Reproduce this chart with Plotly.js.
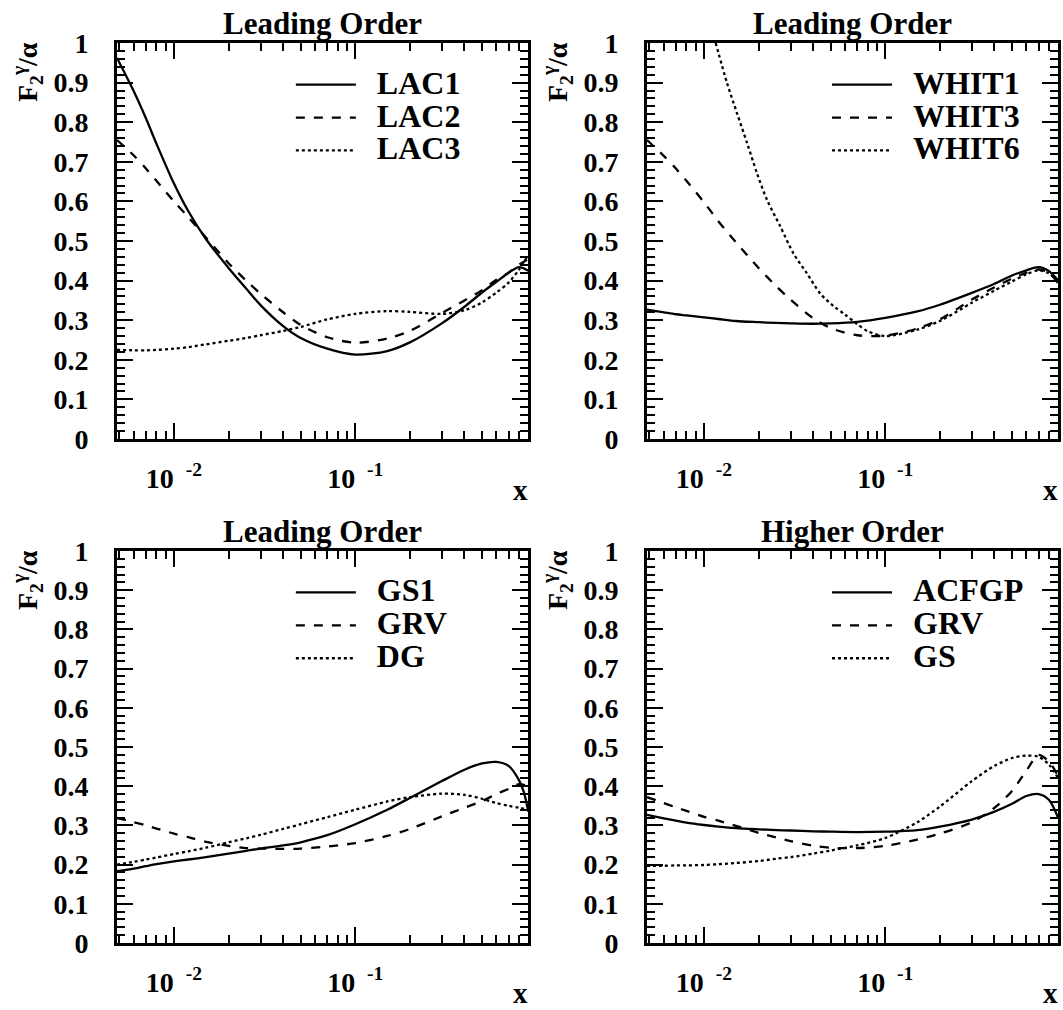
<!DOCTYPE html>
<html><head><meta charset="utf-8">
<script src="https://cdn.plot.ly/plotly-3.0.1.min.js"></script>
<style>html,body{margin:0;padding:0;background:#fff} .panel{position:absolute}</style>
</head><body>
<div id="p1" class="panel"></div>
<div id="p2" class="panel"></div>
<div id="p3" class="panel"></div>
<div id="p4" class="panel"></div>
<script>
// ---------- data ----------
const xGrid = [0.00485, 0.006, 0.007, 0.008, 0.01, 0.012, 0.015, 0.02, 0.025, 0.03, 0.04, 0.05, 0.07, 0.1, 0.15, 0.2, 0.3, 0.4, 0.5, 0.6, 0.7, 0.8, 0.9];

// Panel 1: Leading Order (LAC)
const lac1 = [0.962, 0.878, 0.81, 0.746, 0.645, 0.575, 0.505, 0.432, 0.380, 0.338, 0.285, 0.255, 0.228, 0.213, 0.222, 0.244, 0.292, 0.334, 0.370, 0.397, 0.420, 0.434, 0.425];
const lac2 = [0.755, 0.716, 0.683, 0.652, 0.600, 0.560, 0.509, 0.444, 0.400, 0.367, 0.320, 0.288, 0.257, 0.243, 0.254, 0.273, 0.318, 0.350, 0.376, 0.402, 0.420, 0.440, 0.455];
const lac3 = [0.225, 0.224, 0.224, 0.225, 0.228, 0.232, 0.239, 0.248, 0.255, 0.262, 0.273, 0.283, 0.302, 0.316, 0.323, 0.321, 0.316, 0.325, 0.345, 0.370, 0.395, 0.428, 0.465];

// Panel 2: Leading Order (WHIT)
const whit1 = [0.327, 0.320, 0.315, 0.312, 0.307, 0.303, 0.298, 0.295, 0.293, 0.292, 0.291, 0.292, 0.296, 0.306, 0.322, 0.339, 0.369, 0.392, 0.413, 0.426, 0.434, 0.424, 0.400];
const whit3 = [0.755, 0.715, 0.683, 0.652, 0.598, 0.550, 0.497, 0.432, 0.386, 0.352, 0.305, 0.280, 0.262, 0.261, 0.279, 0.302, 0.352, 0.383, 0.405, 0.420, 0.428, 0.420, 0.392];
const whit6X = [0.0116, 0.0134, 0.0152, 0.0173, 0.0196, 0.0223, 0.0264, 0.0312, 0.037, 0.0438, 0.052, 0.06, 0.07, 0.08, 0.1, 0.15, 0.2, 0.3, 0.4, 0.5, 0.6, 0.7, 0.8, 0.9];
const whit6 = [1.0, 0.899, 0.823, 0.747, 0.671, 0.603, 0.536, 0.468, 0.418, 0.367, 0.335, 0.314, 0.29, 0.272, 0.260, 0.276, 0.298, 0.344, 0.375, 0.398, 0.416, 0.426, 0.418, 0.398];

// Panel 3: Leading Order (GS1, GRV, DG)
const gs1X = [0.00485, 0.006, 0.007, 0.008, 0.01, 0.012, 0.015, 0.02, 0.025, 0.03, 0.04, 0.05, 0.07, 0.1, 0.15, 0.2, 0.3, 0.4, 0.5, 0.6, 0.7, 0.8, 0.85, 0.9];
const gs1 = [0.183, 0.190, 0.196, 0.201, 0.208, 0.213, 0.219, 0.228, 0.235, 0.241, 0.249, 0.257, 0.275, 0.303, 0.340, 0.370, 0.413, 0.442, 0.458, 0.462, 0.452, 0.415, 0.385, 0.335];
const grvLO = [0.319, 0.308, 0.300, 0.292, 0.279, 0.270, 0.258, 0.248, 0.242, 0.241, 0.240, 0.241, 0.246, 0.255, 0.273, 0.291, 0.323, 0.345, 0.362, 0.380, 0.393, 0.405, 0.400];
const dg = [0.200, 0.207, 0.213, 0.218, 0.227, 0.234, 0.243, 0.257, 0.267, 0.276, 0.291, 0.303, 0.321, 0.340, 0.361, 0.372, 0.381, 0.378, 0.368, 0.357, 0.350, 0.345, 0.340];

// Panel 4: Higher Order (ACFGP, GRV, GS)
const acfgp = [0.327, 0.318, 0.312, 0.307, 0.301, 0.297, 0.293, 0.290, 0.288, 0.287, 0.285, 0.284, 0.283, 0.284, 0.288, 0.297, 0.315, 0.335, 0.355, 0.375, 0.380, 0.365, 0.318];
const grvHO = [0.372, 0.357, 0.346, 0.337, 0.322, 0.312, 0.299, 0.281, 0.269, 0.260, 0.248, 0.243, 0.242, 0.248, 0.264, 0.279, 0.308, 0.345, 0.388, 0.440, 0.480, 0.462, 0.425];
const gsHO = [0.197, 0.197, 0.198, 0.198, 0.199, 0.201, 0.204, 0.209, 0.215, 0.219, 0.228, 0.236, 0.249, 0.268, 0.308, 0.348, 0.413, 0.452, 0.472, 0.478, 0.475, 0.455, 0.420];

// Labels / ticks
const panelTitles = ["Leading Order", "Leading Order", "Leading Order", "Higher Order"];
const legendNames = [["LAC1", "LAC2", "LAC3"], ["WHIT1", "WHIT3", "WHIT6"], ["GS1", "GRV", "DG"], ["ACFGP", "GRV", "GS"]];
const xTickVals = [0.01, 0.1];
const xTickText = ["10\u00a0<sup>\u00a0-2</sup>", "10\u00a0<sup>\u00a0-1</sup>"];
const xMinorVals = [0.005, 0.006, 0.007, 0.008, 0.009, 0.02, 0.03, 0.04, 0.05, 0.06, 0.07, 0.08, 0.09, 0.2, 0.3, 0.4, 0.5, 0.6, 0.7, 0.8];
const yTickVals = [0, 0.1, 0.2, 0.3, 0.4, 0.5, 0.6, 0.7, 0.8, 0.9, 1];
const yTickText = ["0", "0.1", "0.2", "0.3", "0.4", "0.5", "0.6", "0.7", "0.8", "0.9", "1"];
const xRange = [0.00485, 0.896];
const yLabel = "F<sub>2</sub><sup>\u03b3</sup>/\u03b1";
const xLabel = "x";

// ---------- layout / styling ----------
const FONT = '"Liberation Serif", "Times New Roman", serif';
const dashes = ["solid", "dash", "dot"];
const panels = [
  {id: 'p1', left: 0, top: 0, w: 532, h: 505, m: {l: 117, r: 4, t: 43, b: 66}, xShift: -51, legX: 0.423, series: [[xGrid, lac1], [xGrid, lac2], [xGrid, lac3]]},
  {id: 'p2', left: 532, top: 0, w: 531, h: 505, m: {l: 115, r: 5, t: 43, b: 66}, xShift: -51, legX: 0.438, series: [[xGrid, whit1], [xGrid, whit3], [whit6X, whit6]]},
  {id: 'p3', left: 0, top: 505, w: 532, h: 505, m: {l: 117, r: 4, t: 46, b: 67}, xShift: -50, legX: 0.423, series: [[gs1X, gs1], [xGrid, grvLO], [xGrid, dg]]},
  {id: 'p4', left: 532, top: 505, w: 531, h: 505, m: {l: 115, r: 5, t: 46, b: 67}, xShift: -50, legX: 0.438, series: [[xGrid, acfgp], [xGrid, grvHO], [xGrid, gsHO]]}
];

panels.forEach((p, i) => {
  const el = document.getElementById(p.id);
  el.style.left = p.left + 'px'; el.style.top = p.top + 'px';
  el.style.width = p.w + 'px'; el.style.height = p.h + 'px';
  const traces = p.series.map((s, k) => ({
    x: s[0], y: s[1], type: 'scatter', mode: 'lines',
    name: '<span style="font-size:32px">\u2002' + legendNames[i][k] + '</span>',
    line: {color: '#000', width: 2.3, dash: dashes[k], shape: 'spline', smoothing: 0.8},
    hoverinfo: 'skip'
  }));
  const layout = {
    width: p.w, height: p.h, margin: p.m,
    paper_bgcolor: '#fff', plot_bgcolor: '#fff',
    font: {family: FONT, color: '#000'},
    showlegend: true,
    xaxis: {
      type: 'log', range: [Math.log10(xRange[0]), Math.log10(xRange[1])],
      tickmode: 'array', tickvals: xTickVals, ticktext: xTickText,
      ticks: 'inside', ticklen: 16, tickwidth: 2, tickcolor: '#000',
      showline: true, linewidth: 3, linecolor: '#000', mirror: 'ticks',
      showgrid: false, zeroline: false, fixedrange: true,
      tickfont: {family: FONT, size: 28, color: '#000', weight: 'bold'}, ticklabelstandoff: 12,
      minor: {tickmode: 'array', tickvals: xMinorVals, ticks: 'inside', ticklen: 8, tickwidth: 2, tickcolor: '#000', showgrid: false}
    },
    yaxis: {
      range: [0, 1], tickmode: 'array', tickvals: yTickVals, ticktext: yTickText,
      ticks: 'inside', ticklen: 16, tickwidth: 2, tickcolor: '#000',
      showline: true, linewidth: 3, linecolor: '#000', mirror: 'ticks',
      showgrid: false, zeroline: false, fixedrange: true,
      tickfont: {family: FONT, size: 28, color: '#000', weight: 'bold'}, ticklabelstandoff: 20,
      minor: {dtick: 0.02, ticks: 'inside', ticklen: 8, tickwidth: 2, tickcolor: '#000', showgrid: false}
    },
    legend: {
      x: p.legX, y: 0.949, xanchor: 'left', yanchor: 'top',
      bgcolor: 'rgba(0,0,0,0)',
      font: {family: FONT, size: 23, color: '#000', weight: 'bold'},
      itemwidth: 60
    },
    annotations: [
      {text: panelTitles[i], xref: 'x domain', yref: 'y domain', x: 0.5, y: 1, xanchor: 'center', yanchor: 'bottom',
       showarrow: false, font: {family: FONT, size: 31, color: '#000', weight: 'bold'}},
      {text: yLabel, xref: 'x domain', yref: 'y domain', x: 0, y: 1, xshift: -90, yshift: -29,
       xanchor: 'center', yanchor: 'middle', textangle: -90, showarrow: false,
       font: {family: FONT, size: 28, color: '#000', weight: 'bold'}},
      {text: xLabel, xref: 'x domain', yref: 'y domain', x: 1, y: 0, xshift: -8, yshift: p.xShift,
       xanchor: 'center', yanchor: 'middle', showarrow: false,
       font: {family: FONT, size: 29, color: '#000', weight: 'bold'}}
    ]
  };
  Plotly.newPlot(el, traces, layout, {staticPlot: true});
});
</script>
</body></html>
